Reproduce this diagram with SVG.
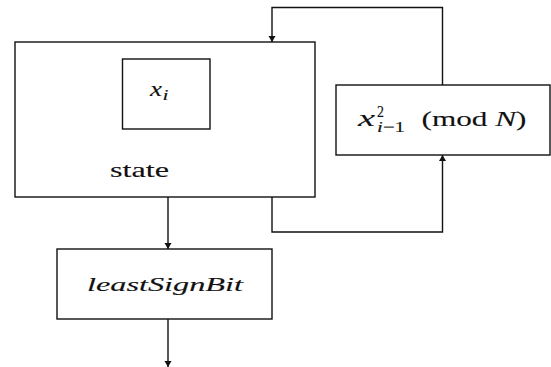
<svg xmlns="http://www.w3.org/2000/svg" width="551" height="367" viewBox="0 0 551 367">
  <style>
    .box { fill: #fff; stroke: #111; stroke-width: 1.4; }
    .wire { fill: none; stroke: #111; stroke-width: 1.4; }
    text { fill: #111; stroke: #111; stroke-width: 0.12; }
    .mi { font-style: italic; }
  </style>
  <defs>
    <marker id="arrow" markerUnits="userSpaceOnUse" markerWidth="8" markerHeight="8" refX="6" refY="3.5" orient="auto">
      <path d="M0,0 L6,3.5 L0,7 Z" fill="#111"/>
    </marker>
  </defs>

  <g font-family="'Liberation Serif', 'Times New Roman', serif">
    <!-- state register holding x_i -->
    <g id="state">
      <rect class="box" x="15" y="42" width="300" height="155"/>
      <text x="110" y="177" font-size="22" textLength="59" lengthAdjust="spacingAndGlyphs">state</text>
    </g>
    <g id="xi">
      <rect class="box" x="122.5" y="59" width="87.5" height="70"/>
      <text class="mi" x="150" y="96" font-size="21" textLength="12" lengthAdjust="spacingAndGlyphs">x</text>
      <text class="mi" x="162.5" y="99.5" font-size="14" textLength="6" lengthAdjust="spacingAndGlyphs">i</text>
    </g>

    <!-- squaring step -->
    <g id="square">
      <rect class="box" x="336" y="85" width="214" height="70"/>
      <text class="mi" x="358" y="126" font-size="23" textLength="17" lengthAdjust="spacingAndGlyphs">x</text>
      <text x="377" y="117" font-size="16" textLength="7" lengthAdjust="spacingAndGlyphs">2</text>
      <text class="mi" x="377" y="131.5" font-size="15" textLength="28" lengthAdjust="spacingAndGlyphs">i<tspan font-style="normal">−1</tspan></text>
      <text x="421.5" y="126" font-size="22" textLength="105" lengthAdjust="spacingAndGlyphs">(mod <tspan class="mi">N</tspan>)</text>
    </g>

    <!-- output bit extraction -->
    <g id="lsb">
      <rect class="box" x="57" y="249" width="215" height="70"/>
      <text class="mi" x="87" y="291" font-size="19" textLength="156" lengthAdjust="spacingAndGlyphs">leastSignBit</text>
    </g>
  </g>

  <g id="connectors">
    <path class="wire" d="M442.5 85 V7.5 H272 V42" marker-end="url(#arrow)"/>
    <path class="wire" d="M272 197 V232 H442.5 V155" marker-end="url(#arrow)"/>
    <path class="wire" d="M168 197 V249" marker-end="url(#arrow)"/>
    <path class="wire" d="M168 319 V367" marker-end="url(#arrow)"/>
  </g>
</svg>
